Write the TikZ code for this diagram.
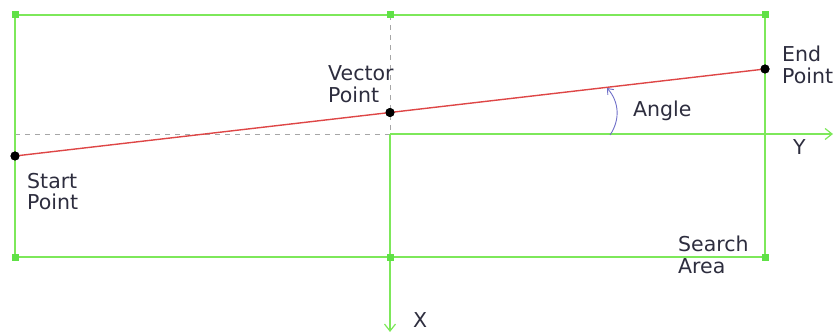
\documentclass[tikz,border=0pt]{standalone}
\usepackage{fontspec}
\setmainfont{DejaVu Sans}
\usetikzlibrary{arrows.meta}
\definecolor{lgreen}{RGB}{125,232,90}
\definecolor{sqgreen}{RGB}{95,225,70}
\definecolor{txt}{RGB}{45,45,62}
\definecolor{redline}{RGB}{222,70,70}
\definecolor{arcblue}{RGB}{110,110,200}
\tikzset{
  frame/.style={draw=lgreen, line width=1.8pt},
  axis/.style={draw=lgreen, line width=1.8pt, -{Straight Barb[length=7pt,width=11pt,line width=1.2pt]}},
  guide/.style={draw=gray!70, line width=0.6pt, dash pattern=on 5pt off 5pt},
  sq/.style={fill=sqgreen, minimum size=7pt, inner sep=0pt, draw=none},
  dot/.style={circle, fill=black, minimum size=9pt, inner sep=0pt},
  lbl/.style={font=\fontsize{20.5}{22}\selectfont, text=txt, inner sep=0pt, align=left, anchor=base west},
}
\begin{document}
\begin{tikzpicture}[x=1pt,y=1pt]
\useasboundingbox (0,0) rectangle (835,335);
% frame corners
\coordinate (tl) at (15,320);
\coordinate (tm) at (390,320);
\coordinate (tr) at (765,320);
\coordinate (bl) at (15,78);
\coordinate (bm) at (390,78);
\coordinate (br) at (765,78);
\coordinate (o) at (390,201);
\coordinate (ol) at (15,201);
\coordinate (yend) at (833,201);
\coordinate (xend) at (390,3);
% guides
\draw[guide] (ol) -- (o);
\draw[guide] (tm) -- (o);
% frame
\draw[frame] (tl) -- (tr) -- (br) -- (bl) -- cycle;
% axes
\draw[axis] (o) -- (yend);
\draw[axis] (o) -- (xend);
% squares
\foreach \c in {tl,tm,tr,bl,bm,br} \node[sq] (s\c) at (\c) {};
% line
\node[dot] (start) at (15,179) {};
\node[dot] (endp) at (765,266) {};
\node[dot] (vec) at (390,222.5) {};
\draw[redline, line width=1.4pt] (start.center) -- (endp.center);
\node[dot] at (start) {};
\node[dot] at (endp) {};
\node[dot] at (vec) {};
% angle
\coordinate (a1) at (610,200);
\coordinate (a2) at (607,247);
\draw[arcblue, line width=0.9pt, -{Straight Barb[length=5pt,width=8pt,line width=0.9pt]}] (a1) to[bend right=38] (a2);
% labels
\node[lbl] (lvec) at (328,232) {Vector\\Point};
\node[lbl] (lend) at (782,251) {End\\Point};
\node[lbl] (lang) at (633,218) {Angle};
\node[lbl] (ly) at (793,180) {Y};
\node[lbl] (lstart) at (27,125) {Start\\Point};
\node[lbl] (lsearch) at (678,62) {Search\\Area};
\node[lbl] (lx) at (413,8) {X};
\end{tikzpicture}
\end{document}
